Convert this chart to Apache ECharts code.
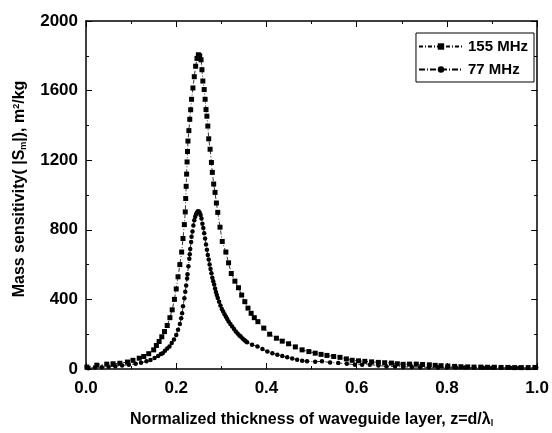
<!DOCTYPE html>
<html>
<head>
<meta charset="utf-8">
<script src="https://cdn.jsdelivr.net/npm/echarts@6/dist/echarts.min.js"></script>
<style>
html,body{margin:0;padding:0;background:#fff;}
#c{width:552px;height:433px;}
</style>
</head>
<body>
<div id="c"></div>
<script>
// ---- Data ----
var seriesNames = ['155 MHz', '77 MHz'];
var xTicks = [0.0, 0.2, 0.4, 0.6, 0.8, 1.0];
var yTicks = [0, 400, 800, 1200, 1600, 2000];

var x155 = [0.002,0.024,0.046,0.060,0.075,0.092,0.104,0.118,0.128,0.139,0.150,0.156,0.162,0.168,0.174,0.180,0.186,0.191,0.196,0.200,0.204,0.208,0.212,0.215,0.218,0.220,0.221,0.222,0.223,0.224,0.225,0.226,0.228,0.230,0.232,0.234,0.237,0.240,0.243,0.246,0.249,0.252,0.255,0.257,0.259,0.262,0.264,0.266,0.268,0.270,0.272,0.275,0.278,0.280,0.283,0.286,0.289,0.292,0.297,0.302,0.310,0.316,0.322,0.330,0.338,0.345,0.352,0.359,0.366,0.373,0.381,0.394,0.407,0.422,0.435,0.449,0.464,0.479,0.494,0.508,0.521,0.534,0.549,0.563,0.577,0.590,0.604,0.618,0.633,0.648,0.662,0.677,0.690,0.703,0.717,0.732,0.746,0.761,0.774,0.787,0.802,0.817,0.831,0.846,0.860,0.875,0.890,0.905,0.920,0.935,0.950,0.965,0.980,0.995];
var y155 = [11,22,28,30,33,40,50,62,72,88,110,135,158,185,215,250,295,340,400,460,530,600,672,750,830,903,980,1050,1120,1190,1250,1310,1370,1435,1490,1550,1615,1680,1740,1785,1806,1800,1777,1720,1655,1606,1550,1491,1453,1396,1323,1263,1187,1130,1063,1015,954,900,815,733,672,610,549,505,467,425,387,350,320,295,272,235,200,177,160,145,127,110,100,91,84,78,72,67,58,50,47,44,41,38,36,34,30,27,28,28,26,24,21,19,17,15,13,12,11,11,10,10,9,9,8,8,8,9];

var x77 = [0.005,0.020,0.035,0.050,0.065,0.080,0.095,0.110,0.122,0.134,0.143,0.152,0.160,0.166,0.170,0.175,0.180,0.185,0.190,0.195,0.200,0.204,0.208,0.211,0.213,0.215,0.218,0.220,0.222,0.224,0.225,0.227,0.229,0.230,0.231,0.233,0.234,0.236,0.238,0.240,0.242,0.244,0.246,0.248,0.250,0.252,0.254,0.256,0.258,0.260,0.262,0.264,0.266,0.268,0.270,0.272,0.274,0.276,0.278,0.280,0.282,0.284,0.286,0.288,0.290,0.292,0.295,0.298,0.301,0.304,0.307,0.310,0.313,0.316,0.320,0.324,0.328,0.332,0.336,0.340,0.343,0.347,0.351,0.354,0.357,0.368,0.380,0.391,0.402,0.413,0.424,0.435,0.446,0.457,0.468,0.479,0.490,0.508,0.523,0.541,0.559,0.578,0.596,0.612,0.629,0.648,0.666,0.685,0.703,0.722,0.741,0.760,0.780,0.800,0.820,0.840,0.860,0.880,0.900,0.920,0.940,0.960,0.980,0.998];
var y77 = [5,8,10,13,16,20,25,30,36,44,52,63,75,86,91,105,118,130,150,170,196,225,258,291,320,360,406,444,480,520,545,590,634,660,690,730,760,790,825,855,875,890,900,907,905,898,885,865,835,810,780,750,715,685,655,630,600,575,550,525,505,485,462,442,425,408,387,365,345,330,315,301,287,273,258,244,230,216,204,193,187,176,166,160,154,140,130,115,101,91,82,74,67,60,53,48,44,42,44,38,34,30,25,25,25,20,15,14,12,11,10,10,9,9,8,8,8,7,7,7,7,7,7,7];

function pairs(xs, ys){ var out=[]; for(var i=0;i<xs.length;i++){ out.push([xs[i], ys[i]]); } return out; }

var FONT = '"Liberation Sans", Arial, sans-serif';
var chart = echarts.init(document.getElementById('c'), null, {renderer:'canvas'});

function baseAxis(extra){
  var a = {
    axisLine:{show:true, onZero:false, lineStyle:{color:'#000', width:1.5}},
    axisTick:{show:true, inside:true, length:6, lineStyle:{color:'#000', width:1}},
    minorTick:{show:true, splitNumber:2, length:3, lineStyle:{color:'#000', width:1}},
    splitLine:{show:false}
  };
  for (var k in extra) a[k] = extra[k];
  return a;
}

var option = {
  backgroundColor:'#fff',
  animation:false,
  grid:{left:86, right:12, top:21, bottom:62, containLabel:false},
  legend:{
    orient:'vertical', right:18, top:33,
    data:seriesNames,
    itemWidth:44, itemHeight:8, itemGap:8,
    borderColor:'#000', borderWidth:1, borderRadius:0,
    padding:[6,6,5,2],
    textStyle:{fontFamily:FONT, fontWeight:'bold', fontSize:15, color:'#000'}
  },
  xAxis:[
    baseAxis({type:'value', min:0, max:1, interval:0.2, position:'bottom',
      axisLabel:{show:true, margin:11, formatter:function(v){return v.toFixed(1);}, fontFamily:FONT, fontWeight:'bold', fontSize:17, color:'#000'},
      name:'Normalized thickness of waveguide layer, z=d/λ{sub|l}',
      nameLocation:'middle', nameGap:43,
      nameTextStyle:{fontFamily:FONT, fontWeight:'bold', fontSize:16, color:'#000',
        rich:{sub:{fontFamily:FONT, fontWeight:'bold', fontSize:9, verticalAlign:'bottom', lineHeight:16, padding:[7,0,0,0], color:'#000'}}}
    }),
    baseAxis({type:'value', min:0, max:1, interval:0.2, position:'top',
      axisLabel:{show:false}})
  ],
  yAxis:[
    baseAxis({type:'value', min:0, max:2000, interval:400, position:'left',
      axisLabel:{show:true, margin:8, formatter:function(v){return String(v);}, fontFamily:FONT, fontWeight:'bold', fontSize:17, color:'#000'},
      name:'Mass sensitivity( |S{sub|m}|), m{sup|2}/kg',
      nameLocation:'middle', nameGap:58, nameRotate:90,
      nameTextStyle:{fontFamily:FONT, fontWeight:'bold', fontSize:16, color:'#000', padding:[0,0,0,12],
        rich:{
          sub:{fontFamily:FONT, fontWeight:'bold', fontSize:9, verticalAlign:'bottom', lineHeight:16, padding:[7,0,0,0], color:'#000'},
          sup:{fontFamily:FONT, fontWeight:'bold', fontSize:9, verticalAlign:'top', lineHeight:16, padding:[0,0,7,0], color:'#000'}
        }}
    }),
    baseAxis({type:'value', min:0, max:2000, interval:400, position:'right',
      axisLabel:{show:false}})
  ],
  series:[
    {
      name:seriesNames[0], type:'line', xAxisIndex:0, yAxisIndex:0,
      data:pairs(x155, y155),
      symbol:'rect', symbolSize:5,
      itemStyle:{color:'#000'},
      lineStyle:{color:'#000', width:0.8, type:[4,2,1,2]},
      showAllSymbol:true
    },
    {
      name:seriesNames[1], type:'line', xAxisIndex:0, yAxisIndex:0,
      data:pairs(x77, y77),
      symbol:'circle', symbolSize:4.5,
      itemStyle:{color:'#000'},
      lineStyle:{color:'#000', width:0.8, type:[6,2,1,2]},
      showAllSymbol:true
    }
  ]
};
chart.setOption(option);
</script>
</body>
</html>
